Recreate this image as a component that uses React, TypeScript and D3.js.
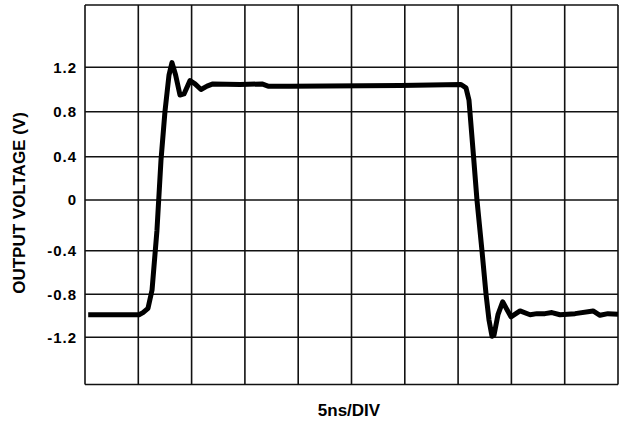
import { useEffect, useRef } from "react";
import * as d3 from "d3";

// waveform: time in ns (5ns/div), voltage in V
const timeNs = [
  0.3, 5.07, 5.44, 5.91, 6.29, 6.75, 7.13, 7.5, 7.88, 8.16, 8.5, 8.91, 9.29, 9.85,
  10.32, 10.88, 11.45, 12.0, 14.54, 16.6, 17.17, 19.23, 29.55, 35.27, 35.74, 36.02,
  36.45, 36.77, 37.24, 37.62, 37.9, 38.18, 38.37, 38.74, 39.18, 39.96, 40.81, 41.75,
  42.4, 43.15, 43.8, 44.56, 45.97, 47.66, 48.31, 49.06, 50,
];
const voltage = [
  -0.99, -0.99, -0.97, -0.93, -0.76, -0.24, 0.37, 0.8, 1.13, 1.23, 1.13, 0.95, 0.96, 1.08,
  1.05, 1.0, 1.03, 1.05, 1.045, 1.05, 1.03, 1.03, 1.035, 1.045, 1.015, 0.905,
  0.4, 0, -0.4, -0.8, -1.04, -1.19, -1.18, -0.99, -0.87, -1.01, -0.955, -0.99,
  -0.98, -0.98, -0.97, -0.99, -0.98, -0.955, -0.995, -0.98, -0.985,
];

// grid rows (the scanned grid is not evenly spaced, so the y scale is piecewise)
const gridVolts = [1.6, 1.2, 0.8, 0.4, 0, -0.4, -0.8, -1.2, -1.6];
const tickVolts = [1.2, 0.8, 0.4, 0, -0.4, -0.8, -1.2];
const tickLabels = ["1.2", "0.8", "0.4", "0", "-0.4", "-0.8", "-1.2"];
const gridTimes = d3.range(0, 51, 5);

export default function App() {
  const ref = useRef<SVGSVGElement>(null);

  useEffect(() => {
    const svg = d3.select(ref.current);
    svg.selectAll("*").remove();

    const xScale = d3.scaleLinear().domain([0, 50]).range([85, 618]);
    const yScale = d3
      .scaleLinear()
      .domain(gridVolts)
      .range([5, 67.3, 111.7, 156.7, 200, 250.7, 294.3, 337.3, 384.5]);

    const font = "'Liberation Sans', Arial, sans-serif";

    // grid
    const grid = svg.append("g").attr("stroke", "#111").attr("stroke-width", 1.6);
    grid
      .selectAll("line.v")
      .data(gridTimes)
      .enter()
      .append("line")
      .attr("x1", (d) => xScale(d))
      .attr("x2", (d) => xScale(d))
      .attr("y1", yScale(1.6))
      .attr("y2", yScale(-1.6));
    grid
      .selectAll("line.h")
      .data(gridVolts)
      .enter()
      .append("line")
      .attr("x1", xScale(0))
      .attr("x2", xScale(50))
      .attr("y1", (d) => yScale(d))
      .attr("y2", (d) => yScale(d));

    // y tick labels
    svg
      .append("g")
      .selectAll("text")
      .data(tickVolts)
      .enter()
      .append("text")
      .attr("x", 77)
      .attr("y", (d) => yScale(d))
      .attr("dy", "0.36em")
      .attr("text-anchor", "end")
      .attr("font-family", font)
      .attr("font-weight", "bold")
      .attr("font-size", 15)
      .attr("letter-spacing", 1)
      .text((d, i) => tickLabels[i]);

    // axis titles
    svg
      .append("text")
      .attr("x", 349)
      .attr("y", 416)
      .attr("text-anchor", "middle")
      .attr("font-family", font)
      .attr("font-weight", "bold")
      .attr("font-size", 17)
      .text("5ns/DIV");

    svg
      .append("text")
      .attr("transform", "translate(25,203) rotate(-90)")
      .attr("text-anchor", "middle")
      .attr("font-family", font)
      .attr("font-weight", "bold")
      .attr("font-size", 17)
      .text("OUTPUT VOLTAGE (V)");

    // trace
    const line = d3
      .line<number>()
      .x((d, i) => xScale(timeNs[i]))
      .y((d) => yScale(d));

    svg
      .append("path")
      .datum(voltage)
      .attr("d", line)
      .attr("fill", "none")
      .attr("stroke", "#000")
      .attr("stroke-width", 5)
      .attr("stroke-linejoin", "round");
  }, []);

  return (
    <svg
      ref={ref}
      width={619}
      height={424}
      style={{ position: "absolute", left: 0, top: 0, background: "#fff" }}
    />
  );
}
